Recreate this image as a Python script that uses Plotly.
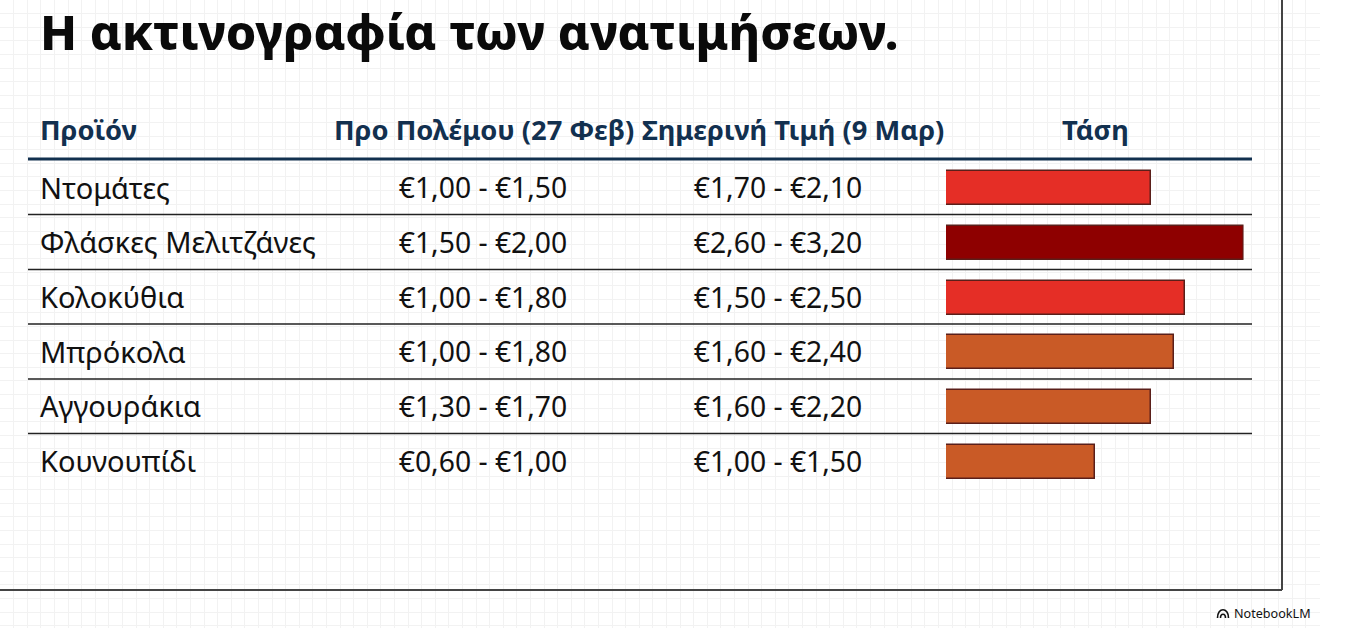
import plotly.graph_objects as go

# Table contents
products = ["Ντομάτες", "Φλάσκες Μελιτζάνες", "Κολοκύθια", "Μπρόκολα", "Αγγουράκια", "Κουνουπίδι"]
before_war = ["€1,00 - €1,50", "€1,50 - €2,00", "€1,00 - €1,80", "€1,00 - €1,80", "€1,30 - €1,70", "€0,60 - €1,00"]
today = ["€1,70 - €2,10", "€2,60 - €3,20", "€1,50 - €2,50", "€1,60 - €2,40", "€1,60 - €2,20", "€1,00 - €1,50"]
trend = [69, 100, 80.5, 76.5, 69, 50]
trend_colors = ["#E52E26", "#8E0000", "#E52E26", "#C95A26", "#C95A26", "#C95A26"]
headers = ["Προϊόν", "Προ Πολέμου (27 Φεβ)", "Σημερινή Τιμή (9 Μαρ)", "Τάση"]

W, H = 1355, 628
FONT = "Noto Sans"
NAVY = "#12304F"
INK = "#111111"
COL_NAME, COL_BEFORE, COL_TODAY, COL_TREND = 40, 483, 778, 1094
GRID_STEP = 13.6

fig = go.Figure()

# Empty trace so the page axes (and their grid) get drawn
fig.add_trace(go.Scatter(x=[None], y=[None], xaxis="x", yaxis="y", showlegend=False))

fig.add_trace(
    go.Bar(
        x=trend,
        y=products,
        orientation="h",
        xaxis="x2",
        yaxis="y2",
        width=0.62,
        marker=dict(color=trend_colors, line=dict(color="#5A1F1A", width=1.5)),
        showlegend=False,
    )
)


def text_column(x, labels, position, size):
    return go.Scatter(
        x=[x] * len(labels),
        y=products,
        text=labels,
        mode="text",
        textposition=position,
        textfont=dict(family=FONT, size=size, color=INK),
        xaxis="x",
        yaxis="y3",
        showlegend=False,
    )


fig.add_trace(text_column(COL_NAME, products, "middle right", 29))
fig.add_trace(text_column(COL_BEFORE, before_war, "middle center", 28.3))
fig.add_trace(text_column(COL_TODAY, today, "middle center", 28.3))

shapes = [
    # Slide frame
    dict(type="line", x0=1282, x1=1282, y0=0, y1=590, line=dict(color="#444444", width=2)),
    dict(type="line", x0=0, x1=1282, y0=590, y1=590, line=dict(color="#444444", width=2)),
    # Header rule
    dict(type="line", x0=28, x1=1252, y0=159, y1=159, line=dict(color=NAVY, width=3)),
]
for rule_y in [214.5, 269.5, 324, 379, 433.5]:
    shapes.append(dict(type="line", x0=28, x1=1252, y0=rule_y, y1=rule_y, line=dict(color="#222222", width=1.5)))
# NotebookLM mark
for r in [2.5, 5.5]:
    c = r * 2
    shapes.append(
        dict(
            type="path",
            path=f"M {1223 - r} 618 C {1223 - r} {618 - c} {1223 + r} {618 - c} {1223 + r} 618",
            line=dict(color=INK, width=1.6),
        )
    )
for s in shapes:
    s.update(xref="x", yref="y", layer="above")

annotations = [
    dict(text="Η ακτινογραφία των ανατιμήσεων.", x=38, y=31, xanchor="left",
         font=dict(family=FONT, size=48.5, color="#0A0A0A", weight=800)),
    dict(text="NotebookLM", x=1232, y=613, xanchor="left",
         font=dict(family=FONT, size=12.6, color=INK)),
]
for label, x, anchor in zip(
    headers, [38, COL_BEFORE + 1, COL_TODAY + 15, COL_TREND + 1], ["left", "center", "center", "center"]
):
    annotations.append(
        dict(text=label, x=x, y=129.5, xanchor=anchor,
             font=dict(family=FONT, size=27.3, color=NAVY, weight="bold"))
    )
for a in annotations:
    a.update(xref="x", yref="y", yanchor="middle", showarrow=False)

hidden = dict(showticklabels=False, ticks="", zeroline=False, showline=False)
rows = dict(type="category", categoryorder="array", categoryarray=products,
            autorange=False, range=[5.5, -0.5], showgrid=False, **hidden)
fig.update_layout(
    width=W,
    height=H,
    margin=dict(l=0, r=0, t=0, b=0),
    paper_bgcolor="white",
    plot_bgcolor="rgba(0,0,0,0)",
    bargap=0,
    shapes=shapes,
    annotations=annotations,
    xaxis=dict(domain=[0, 1320 / W], range=[0, 1320], showgrid=True, gridcolor="#F2F2F2",
               gridwidth=1, dtick=GRID_STEP, tick0=0, **hidden),
    yaxis=dict(domain=[0, 1], range=[H, 0], showgrid=True, gridcolor="#F2F2F2",
               gridwidth=1, dtick=GRID_STEP, tick0=0, **hidden),
    # Bars and table text use the same rows, the text sits a little lower
    xaxis2=dict(domain=[946 / W, 1243.5 / W], range=[0, 100], showgrid=False, anchor="y2", **hidden),
    yaxis2=dict(domain=[1 - 489 / H, 1 - 161 / H], anchor="x2", **rows),
    yaxis3=dict(domain=[1 - 492 / H, 1 - 164 / H], anchor="x", **rows),
)

# Plotly's page keeps the browser's default body margin
fig.write_html("out.html", config=dict(displayModeBar=False), post_script="document.body.style.margin='0';")
